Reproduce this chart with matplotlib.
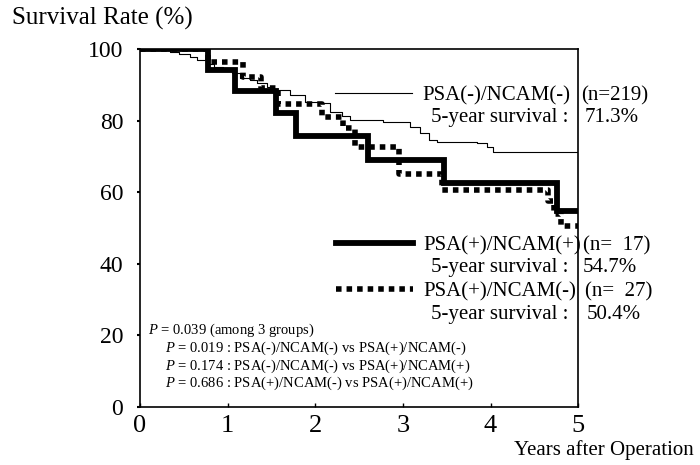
import numpy as np
import matplotlib
matplotlib.use("Agg")
import matplotlib.pyplot as plt
from matplotlib.legend import Legend

plt.rcParams['font.family'] = ['Liberation Serif', 'DejaVu Serif']
plt.rcParams['mathtext.fontset'] = 'custom'
plt.rcParams['mathtext.it'] = 'Liberation Serif:italic'
plt.rcParams['mathtext.rm'] = 'Liberation Serif'

# PSA(-)/NCAM(-), n=219
t_neg = [0, 0.25, 0.34, 0.45, 0.57, 0.65, 0.75, 0.85, 0.95, 1.05, 1.14, 1.25, 1.33, 1.45,
         1.52, 1.71, 1.88, 2.09, 2.17, 2.30, 2.40, 2.77, 3.08, 3.20, 3.30, 3.39, 3.85, 3.96, 4.03, 5.0]
s_neg = [100, 99.6, 99.2, 98.6, 97.8, 96.9, 95.9, 95.0, 94.2, 93.2, 91.9, 91.2, 90.5, 89.4,
         88.5, 87.2, 85.2, 84.9, 82.4, 81.2, 80.2, 79.6, 78.2, 76.5, 74.6, 74.0, 73.7, 72.6, 71.3, 71.3]

# PSA(+)/NCAM(+), n=17
t_pp = [0, 0.78, 1.08, 1.55, 1.78, 2.60, 3.47, 4.76, 5.0]
s_pp = [100, 94.1, 88.2, 82.0, 75.8, 69.0, 62.6, 54.7, 54.7]

# PSA(+)/NCAM(-), n=27
t_pm = [0, 0.78, 1.18, 1.38, 1.58, 2.08, 2.32, 2.45, 2.95, 3.45, 4.65, 4.72, 4.80, 5.0]
s_pm = [100, 96.3, 92.3, 89.2, 84.6, 81.0, 77.8, 72.6, 65.0, 60.7, 57.5, 54.0, 50.6, 50.6]

groups = ['PSA(-)/NCAM(-)', 'PSA(+)/NCAM(+)', 'PSA(+)/NCAM(-)']
n_labels = ['(n=219)', '(n=  17)', '(n=  27)']
surv5 = ['71.3%', '54.7%', '50.4%']
p_lines = [r'$P$ = 0.039 (among 3 groups)',
           r'$P$ = 0.019 : PSA(-)/NCAM(-) vs PSA(+)/NCAM(-)',
           r'$P$ = 0.174 : PSA(-)/NCAM(-) vs PSA(+)/NCAM(+)',
           r'$P$ = 0.686 : PSA(+)/NCAM(-) vs PSA(+)/NCAM(+)']

fig = plt.figure(figsize=(7, 4.65), dpi=100)
ax = fig.add_axes([0.2, 0.1247, 0.626, 0.77])

l1, = ax.step(t_neg, s_neg, where='post', color='black', lw=0.8)
l3, = ax.step(t_pm, s_pm, where='post', color='black', lw=4, linestyle=(0, (1, 0.9)))
l2, = ax.step(t_pp, s_pp, where='post', color='black', lw=4.2, solid_joinstyle='miter')

ax.set_xlim(0, 5)
ax.set_ylim(0, 100)
ax.set_xticks(range(6))
ax.set_yticks(range(0, 101, 20))
ax.tick_params(axis='y', direction='out', length=2, width=1.5, pad=10, labelsize=17)
ax.tick_params(axis='x', direction='in', length=3, width=1, pad=6, labelsize=19)
for sp in ax.spines.values():
    sp.set_linewidth(1.2)

fig.text(12/700, 1-18/465, 'Survival Rate (%)', fontsize=18, ha='left', va='center')
fig.text(694/700, 1-450/465, 'Years after Operation', fontsize=15, ha='right', va='center')

# legend entries, one block per group
handles = [l1, l2, l3]
ypix = [(96, 118), (246, 268), (292, 314)]
x_line = [335, 336, 336]
x_n = [581, 583, 585]
x_s = [585, 583, 587]
for i in range(3):
    ya, yb = ypix[i]
    leg = Legend(ax, [handles[i]], [groups[i]], loc='center left',
                 bbox_to_anchor=((x_line[i]-140)/438, 1-(ya-49)/358), frameon=False,
                 handlelength=3.7, handletextpad=0.5, fontsize=15,
                 borderaxespad=0, borderpad=0)
    ax.add_artist(leg)
    ax.text((568-140)/438, 1-(yb-49)/358, '5-year survival :', transform=ax.transAxes,
            ha='right', va='center', fontsize=15)
    fig.text(x_n[i]/700, 1-ya/465, n_labels[i], ha='left', va='center', fontsize=15)
    fig.text(x_s[i]/700, 1-yb/465, surv5[i], ha='left', va='center', fontsize=15)

ys = [330, 348, 366, 383]
xs = [148, 165, 165, 165]
for i, s in enumerate(p_lines):
    fig.text(xs[i]/700, 1-ys[i]/465, s, ha='left', va='center', fontsize=10.5)

fig.savefig('out.png', dpi=100)
